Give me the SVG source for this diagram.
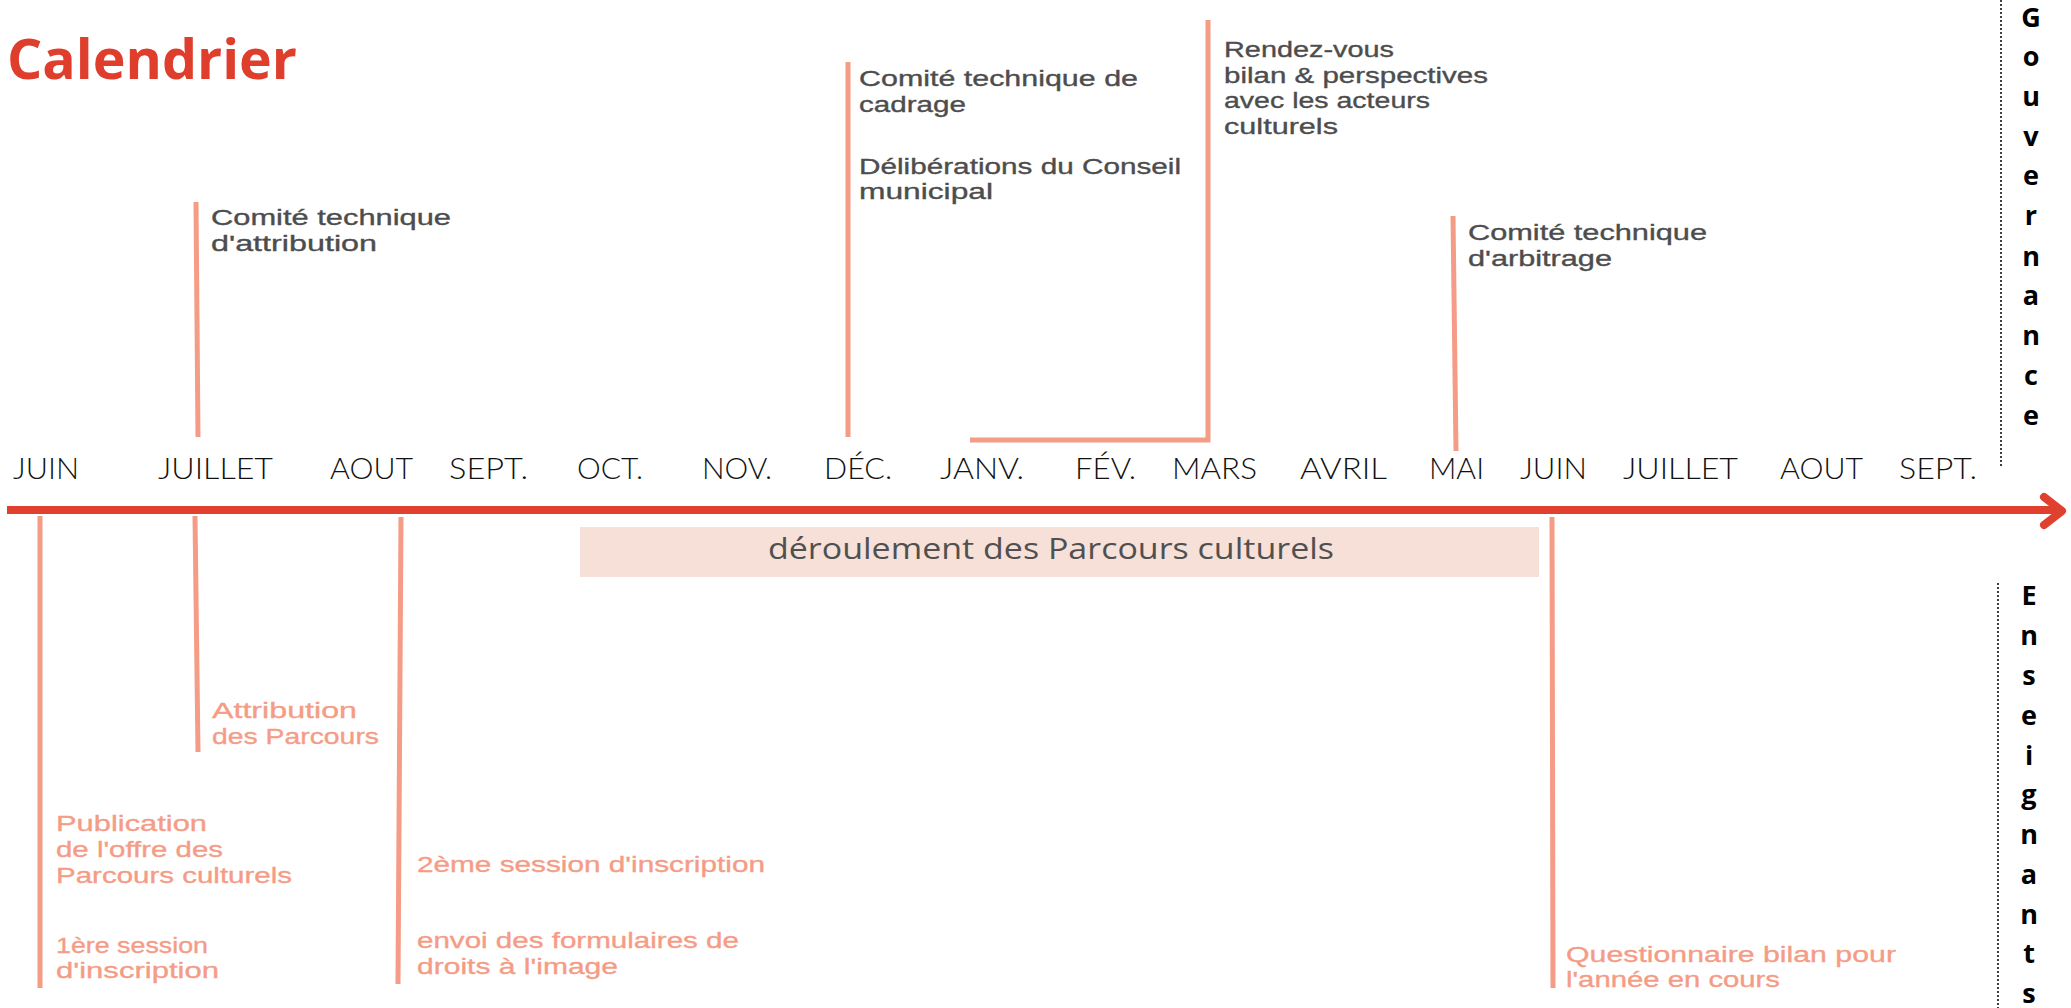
<svg xmlns="http://www.w3.org/2000/svg" width="2071" height="1008" viewBox="0 0 2071 1008">
<style>
.title{font-family:"Open Sans","Liberation Sans",sans-serif;font-weight:700;font-size:56px;fill:#E03E2D}
.month{font-family:"Lato","Open Sans","Liberation Sans",sans-serif;font-weight:300;font-size:29px;fill:#111}
.gov{font-family:"Liberation Sans",Arial,sans-serif;font-size:22.5px;fill:#4d4d4d;stroke:#4d4d4d;stroke-width:0.35px}
.ens{font-family:"Liberation Sans",Arial,sans-serif;font-size:22.5px;fill:#F59C86;stroke:#F59C86;stroke-width:0.35px}
.side{font-family:"Open Sans","Liberation Sans",sans-serif;font-weight:700;font-size:27px;fill:#000;text-anchor:middle}
.band{font-family:"Open Sans","Liberation Sans",sans-serif;font-weight:500;font-size:29px;fill:#505050;text-anchor:middle}
.tick{stroke:#F59C86;stroke-width:5;fill:none}
.axis{stroke:#E0412F;stroke-width:8;fill:none}
.dot{stroke:#000;stroke-width:1.5;stroke-dasharray:2 2;fill:none}
</style>

<g id="title"><text class="title" x="7" y="79" textLength="290" lengthAdjust="spacingAndGlyphs">Calendrier</text></g>

<g id="connectors">
  <line class="axis" x1="7" y1="510" x2="2060" y2="510"/>
  <polyline class="axis" points="2044,497 2062,511 2044,525" stroke-linecap="round" stroke-linejoin="round"/>
  <line class="tick" x1="196" y1="202" x2="198" y2="437"/>
  <line class="tick" x1="848" y1="62" x2="848" y2="437"/>
  <polyline class="tick" points="1208,20 1208,440 970,440"/>
  <line class="tick" x1="1453" y1="216" x2="1456" y2="451"/>
  <line class="tick" x1="40" y1="516" x2="40" y2="988"/>
  <line class="tick" x1="195" y1="516" x2="198" y2="752"/>
  <line class="tick" x1="401" y1="517" x2="398" y2="984"/>
  <line class="tick" x1="1552" y1="517" x2="1553" y2="988"/>
  <line class="dot" x1="2001" y1="0" x2="2001" y2="468"/>
  <line class="dot" x1="1998" y1="583" x2="1998" y2="1008"/>
</g>

<g id="months">
  <text class="month" x="13" y="479" textLength="66" lengthAdjust="spacingAndGlyphs">JUIN</text>
  <text class="month" x="158" y="479" textLength="115" lengthAdjust="spacingAndGlyphs">JUILLET</text>
  <text class="month" x="330" y="479" textLength="83" lengthAdjust="spacingAndGlyphs">AOUT</text>
  <text class="month" x="449" y="479" textLength="79" lengthAdjust="spacingAndGlyphs">SEPT.</text>
  <text class="month" x="577" y="479" textLength="66" lengthAdjust="spacingAndGlyphs">OCT.</text>
  <text class="month" x="702" y="479" textLength="70" lengthAdjust="spacingAndGlyphs">NOV.</text>
  <text class="month" x="824" y="479" textLength="68" lengthAdjust="spacingAndGlyphs">DÉC.</text>
  <text class="month" x="940" y="479" textLength="84" lengthAdjust="spacingAndGlyphs">JANV.</text>
  <text class="month" x="1075" y="479" textLength="61" lengthAdjust="spacingAndGlyphs">FÉV.</text>
  <text class="month" x="1172" y="479" textLength="85" lengthAdjust="spacingAndGlyphs">MARS</text>
  <text class="month" x="1300" y="479" textLength="87" lengthAdjust="spacingAndGlyphs">AVRIL</text>
  <text class="month" x="1429" y="479" textLength="55" lengthAdjust="spacingAndGlyphs">MAI</text>
  <text class="month" x="1520" y="479" textLength="67" lengthAdjust="spacingAndGlyphs">JUIN</text>
  <text class="month" x="1623" y="479" textLength="115" lengthAdjust="spacingAndGlyphs">JUILLET</text>
  <text class="month" x="1780" y="479" textLength="83" lengthAdjust="spacingAndGlyphs">AOUT</text>
  <text class="month" x="1899" y="479" textLength="78" lengthAdjust="spacingAndGlyphs">SEPT.</text>
</g>

<g id="band">
  <rect x="580" y="527" width="959" height="50" fill="#F7E0D8"/>
  <text class="band" x="1051" y="559" textLength="566" lengthAdjust="spacingAndGlyphs">déroulement des Parcours culturels</text>
</g>

<g id="gov-attribution">
  <text class="gov"><tspan x="211" y="225" textLength="240" lengthAdjust="spacingAndGlyphs">Comité technique</tspan><tspan x="211" y="251" textLength="166" lengthAdjust="spacingAndGlyphs">d'attribution</tspan></text>
</g>
<g id="gov-cadrage">
  <text class="gov"><tspan x="859" y="86" textLength="279" lengthAdjust="spacingAndGlyphs">Comité technique de</tspan><tspan x="859" y="112" textLength="107" lengthAdjust="spacingAndGlyphs">cadrage</tspan></text>
  <text class="gov"><tspan x="859" y="174" textLength="322" lengthAdjust="spacingAndGlyphs">Délibérations du Conseil</tspan><tspan x="859" y="199" textLength="134" lengthAdjust="spacingAndGlyphs">municipal</tspan></text>
</g>
<g id="gov-rdv">
  <text class="gov"><tspan x="1224" y="57" textLength="170" lengthAdjust="spacingAndGlyphs">Rendez-vous</tspan><tspan x="1224" y="83" textLength="264" lengthAdjust="spacingAndGlyphs">bilan &amp; perspectives</tspan><tspan x="1224" y="108" textLength="206" lengthAdjust="spacingAndGlyphs">avec les acteurs</tspan><tspan x="1224" y="134" textLength="114" lengthAdjust="spacingAndGlyphs">culturels</tspan></text>
</g>
<g id="gov-arbitrage">
  <text class="gov"><tspan x="1468" y="240" textLength="239" lengthAdjust="spacingAndGlyphs">Comité technique</tspan><tspan x="1468" y="266" textLength="144" lengthAdjust="spacingAndGlyphs">d'arbitrage</tspan></text>
</g>

<g id="ens-attribution">
  <text class="ens"><tspan x="212" y="718" textLength="145" lengthAdjust="spacingAndGlyphs">Attribution</tspan><tspan x="212" y="744" textLength="167" lengthAdjust="spacingAndGlyphs">des Parcours</tspan></text>
</g>
<g id="ens-publication">
  <text class="ens"><tspan x="56" y="831" textLength="151" lengthAdjust="spacingAndGlyphs">Publication</tspan><tspan x="56" y="857" textLength="167" lengthAdjust="spacingAndGlyphs">de l'offre des</tspan><tspan x="56" y="883" textLength="236" lengthAdjust="spacingAndGlyphs">Parcours culturels</tspan></text>
  <text class="ens"><tspan x="56" y="953" textLength="152" lengthAdjust="spacingAndGlyphs">1ère session</tspan><tspan x="56" y="978" textLength="163" lengthAdjust="spacingAndGlyphs">d'inscription</tspan></text>
</g>
<g id="ens-session2">
  <text class="ens" x="417" y="872" textLength="348" lengthAdjust="spacingAndGlyphs">2ème session d'inscription</text>
  <text class="ens"><tspan x="417" y="948" textLength="322" lengthAdjust="spacingAndGlyphs">envoi des formulaires de</tspan><tspan x="417" y="974" textLength="201" lengthAdjust="spacingAndGlyphs">droits à l'image</tspan></text>
</g>
<g id="ens-questionnaire">
  <text class="ens"><tspan x="1566" y="962" textLength="330" lengthAdjust="spacingAndGlyphs">Questionnaire bilan pour</tspan><tspan x="1566" y="987" textLength="214" lengthAdjust="spacingAndGlyphs">l'année en cours</tspan></text>
</g>

<g id="gouvernance">
  <text class="side" x="2031" y="27">G</text>
  <text class="side" x="2031" y="66">o</text>
  <text class="side" x="2031" y="106">u</text>
  <text class="side" x="2031" y="146">v</text>
  <text class="side" x="2031" y="185">e</text>
  <text class="side" x="2031" y="225">r</text>
  <text class="side" x="2031" y="266">n</text>
  <text class="side" x="2031" y="305">a</text>
  <text class="side" x="2031" y="345">n</text>
  <text class="side" x="2031" y="385">c</text>
  <text class="side" x="2031" y="425">e</text>
</g>
<g id="enseignants">
  <text class="side" x="2029" y="605">E</text>
  <text class="side" x="2029" y="645">n</text>
  <text class="side" x="2029" y="685">s</text>
  <text class="side" x="2029" y="725">e</text>
  <text class="side" x="2029" y="765">i</text>
  <text class="side" x="2029" y="804">g</text>
  <text class="side" x="2029" y="844">n</text>
  <text class="side" x="2029" y="884">a</text>
  <text class="side" x="2029" y="924">n</text>
  <text class="side" x="2029" y="963">t</text>
  <text class="side" x="2029" y="1003">s</text>
</g>
</svg>
